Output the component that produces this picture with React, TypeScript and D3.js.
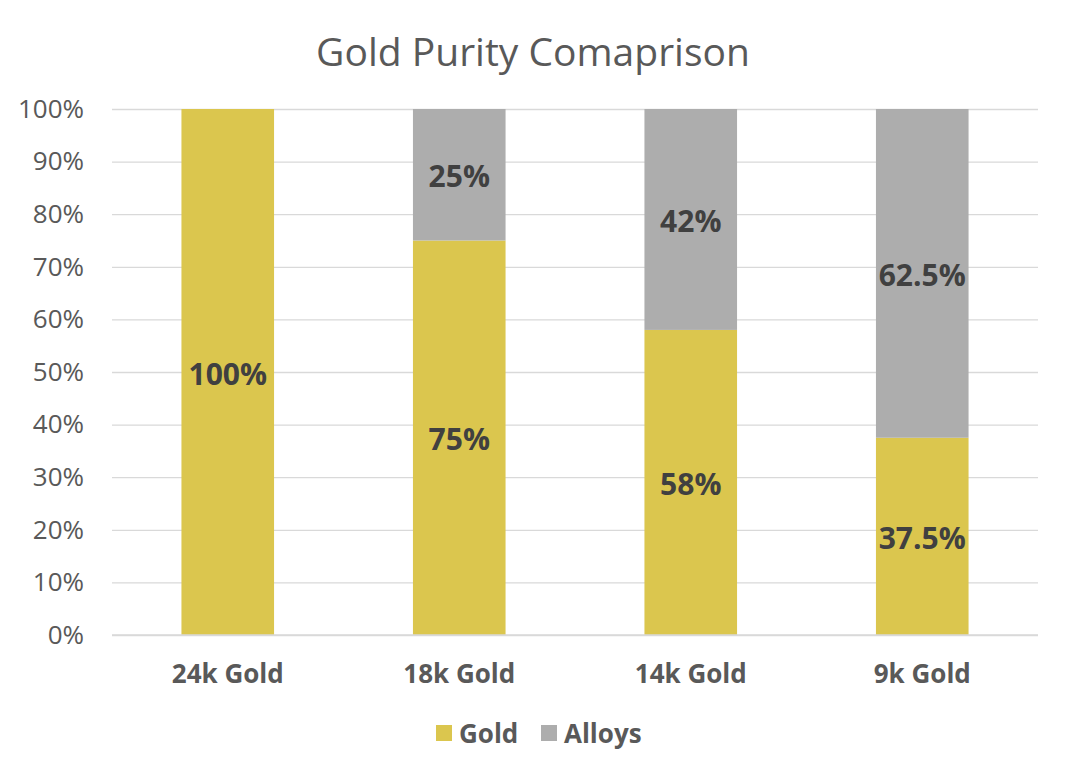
import React, { useRef, useEffect } from 'react';
import * as d3 from 'd3';

const categories = ['24k Gold', '18k Gold', '14k Gold', '9k Gold'];
const goldValues = [100, 75, 58, 37.5];
const alloyValues = [0, 25, 42, 62.5];
const goldLabels = ['100%', '75%', '58%', '37.5%'];
const alloyLabels = ['', '25%', '42%', '62.5%'];
const yTicks = [0, 10, 20, 30, 40, 50, 60, 70, 80, 90, 100];
const seriesNames = ['Gold', 'Alloys'];
const seriesColors = ['#DBC64E', '#ADADAD'];

export default function App() {
  const svgRef = useRef<SVGSVGElement>(null);

  useEffect(() => {
    if (!svgRef.current) return;
    d3.select(svgRef.current).selectAll('*').remove();

    const width = 1066;
    const height = 775;
    const margin = { top: 109, right: 28, bottom: 140, left: 112 };
    const innerWidth = width - margin.left - margin.right;
    const innerHeight = height - margin.top - margin.bottom;
    const font = '"Open Sans", sans-serif';

    const svg = d3.select(svgRef.current)
      .attr('width', width)
      .attr('height', height)
      .style('font-family', font);

    svg.append('text')
      .attr('x', 533)
      .attr('y', 66)
      .attr('text-anchor', 'middle')
      .style('font-size', '39px')
      .style('fill', '#595959')
      .text('Gold Purity Comaprison');

    const g = svg.append('g')
      .attr('transform', `translate(${margin.left},${margin.top})`);

    const x = d3.scaleBand()
      .domain(categories)
      .range([0, innerWidth])
      .paddingInner(0.6)
      .paddingOuter(0.3);

    const y = d3.scaleLinear()
      .domain([0, 100])
      .range([innerHeight, 0]);

    // Y grid + labels
    g.append('g')
      .call(d3.axisLeft(y).tickValues(yTicks).tickSize(-innerWidth).tickFormat(d => `${d}%`))
      .call(s => s.select('.domain').remove())
      .call(s => s.selectAll('.tick line').attr('stroke', '#D9D9D9').attr('stroke-width', 1.3))
      .call(s => s.selectAll('text')
        .attr('x', -28)
        .style('font-family', font)
        .style('font-size', '26px')
        .style('fill', '#595959'));

    // Bars
    const bars = categories.map((c, i) => ({ c, gold: goldValues[i], alloy: alloyValues[i], gl: goldLabels[i], al: alloyLabels[i] }));

    g.selectAll('.gold')
      .data(bars)
      .enter()
      .append('rect')
      .attr('x', d => x(d.c) || 0)
      .attr('width', x.bandwidth())
      .attr('y', d => y(d.gold))
      .attr('height', d => innerHeight - y(d.gold))
      .attr('fill', seriesColors[0]);

    g.selectAll('.alloy')
      .data(bars.filter(d => d.alloy > 0))
      .enter()
      .append('rect')
      .attr('x', d => x(d.c) || 0)
      .attr('width', x.bandwidth())
      .attr('y', d => y(d.gold + d.alloy))
      .attr('height', d => y(d.gold) - y(d.gold + d.alloy))
      .attr('fill', seriesColors[1]);

    // x baseline
    g.append('line')
      .attr('x1', 0).attr('x2', innerWidth)
      .attr('y1', innerHeight).attr('y2', innerHeight)
      .attr('stroke', '#D9D9D9').attr('stroke-width', 1.3);

    // Value labels
    g.selectAll('.gl')
      .data(bars)
      .enter()
      .append('text')
      .attr('x', d => (x(d.c) || 0) + x.bandwidth() / 2)
      .attr('y', d => y(d.gold / 2))
      .attr('dy', '0.42em')
      .attr('text-anchor', 'middle')
      .style('font-size', '30px')
      .style('font-weight', 'bold')
      .style('fill', '#404040')
      .text(d => d.gl);

    g.selectAll('.al')
      .data(bars.filter(d => d.alloy > 0))
      .enter()
      .append('text')
      .attr('x', d => (x(d.c) || 0) + x.bandwidth() / 2)
      .attr('y', d => y(d.gold + d.alloy / 2))
      .attr('dy', '0.42em')
      .attr('text-anchor', 'middle')
      .style('font-size', '30px')
      .style('font-weight', 'bold')
      .style('fill', '#404040')
      .text(d => d.al);

    // Category labels
    g.append('g')
      .attr('transform', `translate(0,${innerHeight})`)
      .call(d3.axisBottom(x).tickSize(0))
      .call(s => s.select('.domain').remove())
      .call(s => s.selectAll('text')
        .attr('dy', 0)
        .attr('y', 48)
        .style('font-family', font)
        .style('font-size', '26px')
        .style('font-weight', 'bold')
        .style('fill', '#595959'));

    // Legend
    const legendX = [436, 541];
    const legend = svg.append('g');
    seriesNames.forEach((name, i) => {
      legend.append('rect')
        .attr('x', legendX[i])
        .attr('y', 725)
        .attr('width', 16)
        .attr('height', 16)
        .attr('fill', seriesColors[i]);
      legend.append('text')
        .attr('x', legendX[i] + 23)
        .attr('y', 743)
        .style('font-size', '26px')
        .style('font-weight', 'bold')
        .style('fill', '#595959')
        .text(name);
    });
  }, []);

  return (
    <div style={{ margin: -8 }}>
      <svg ref={svgRef} style={{ display: 'block' }} />
    </div>
  );
}
